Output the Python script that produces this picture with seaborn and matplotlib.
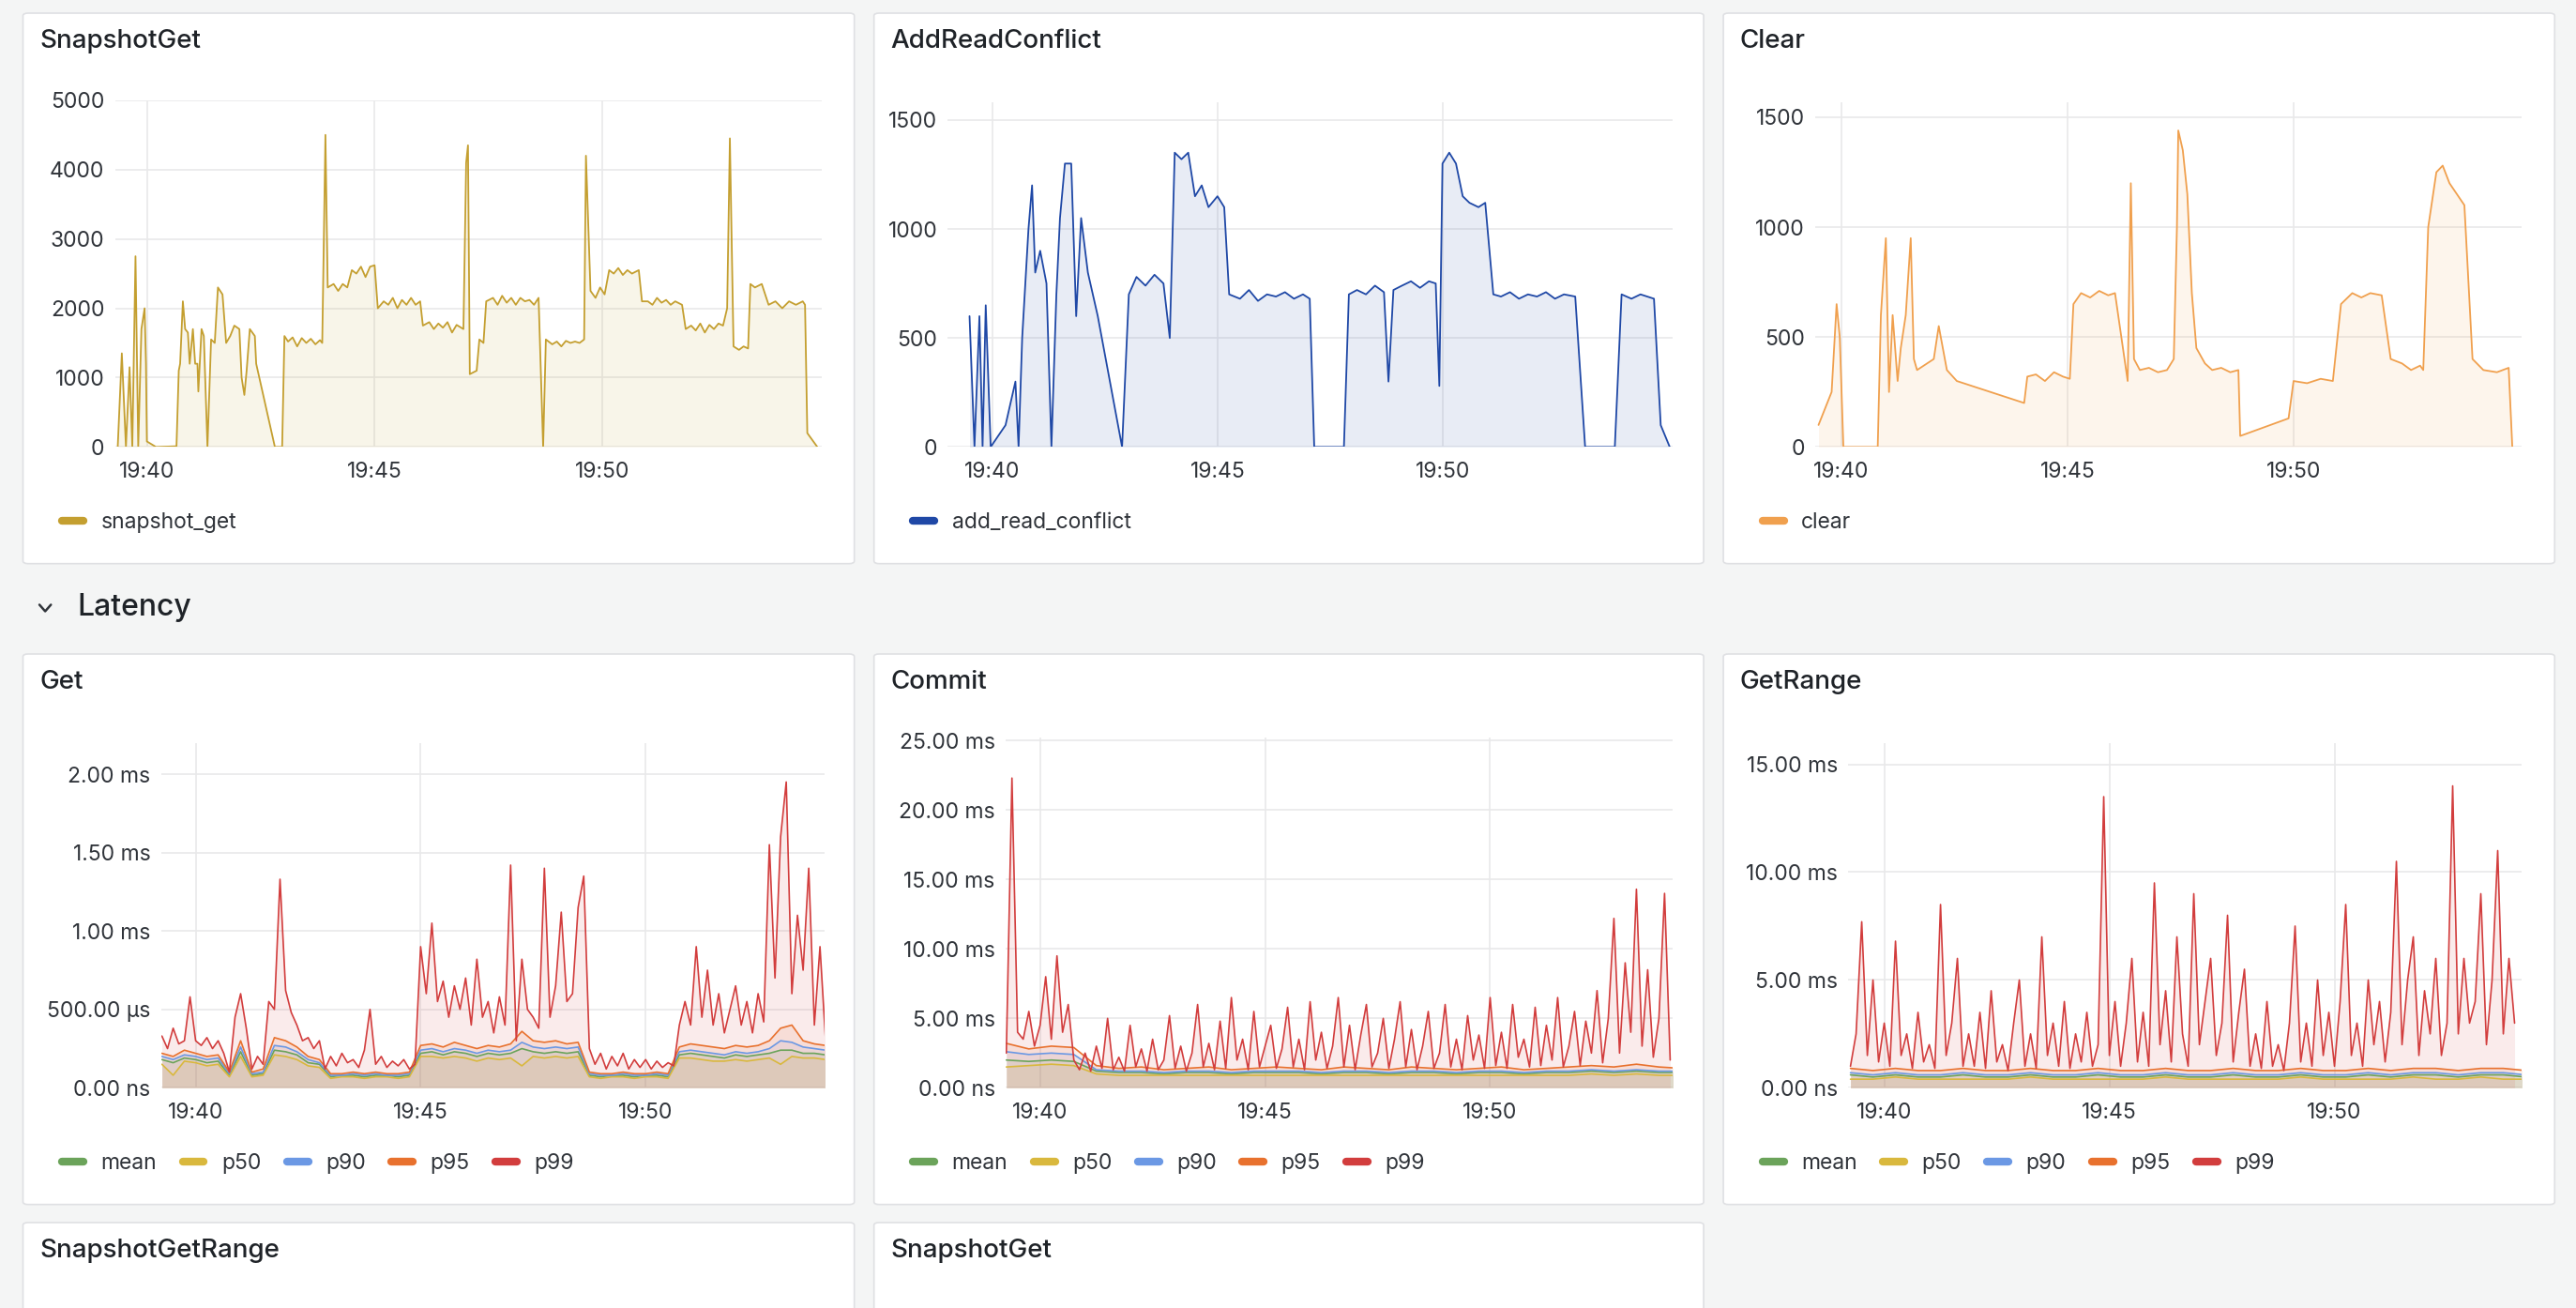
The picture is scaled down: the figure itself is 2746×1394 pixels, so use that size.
import numpy as np
import matplotlib
matplotlib.use('Agg')
import matplotlib.pyplot as plt
import seaborn as sns
from matplotlib.lines import Line2D
from matplotlib.patches import FancyBboxPatch
from matplotlib.ticker import FixedLocator, FuncFormatter

sns.set_theme(style='white')
plt.rcParams['font.family'] = ['Inter', 'DejaVu Sans']

# ---- data: minutes after 19:00 and values ----
snap_t = [39.36, 39.45, 39.54, 39.62, 39.68, 39.75, 39.81, 39.88, 39.95, 39.98, 40.0, 40.2, 40.65, 40.70, 40.73,
          40.79, 40.84, 40.90, 40.94, 41.01, 41.06, 41.11, 41.13, 41.20, 41.25, 41.33, 41.41, 41.49, 41.56, 41.66,
          41.74, 41.83, 41.92, 42.03, 42.08, 42.14, 42.19, 42.26, 42.37, 42.40, 42.81, 42.97, 43.02,
          43.1, 43.2, 43.3, 43.4, 43.5, 43.6, 43.7, 43.8, 43.85, 43.92, 43.97,
          44.1, 44.2, 44.3, 44.4, 44.5, 44.6, 44.7, 44.8, 44.9, 45.0, 45.07,
          45.2, 45.3, 45.4, 45.5, 45.6, 45.7, 45.8, 45.9, 46.0, 46.06,
          46.2, 46.3, 46.4, 46.5, 46.6, 46.7, 46.8, 46.95, 47.01, 47.05, 47.09, 47.24, 47.30, 47.39, 47.45,
          47.6, 47.7, 47.8, 47.9, 48.0, 48.1, 48.2, 48.3, 48.4, 48.5, 48.6, 48.70, 48.76,
          48.9, 49.0, 49.1, 49.2, 49.3, 49.4, 49.5, 49.6, 49.64, 49.74,
          49.85, 49.95, 50.05, 50.15, 50.25, 50.35, 50.45, 50.55, 50.65, 50.8, 50.87,
          51.0, 51.1, 51.2, 51.3, 51.4, 51.5, 51.6, 51.75, 51.83,
          51.95, 52.05, 52.15, 52.25, 52.35, 52.45, 52.55, 52.65, 52.74, 52.80, 52.88,
          53.0, 53.1, 53.2, 53.25, 53.35, 53.5, 53.65, 53.8, 53.95, 54.1, 54.25, 54.4, 54.45, 54.5, 54.72]
snap_v = [0, 1350, 0, 1150, 0, 2750, 0, 1700, 2000, 1200, 80, 0, 10, 1100, 1200,
          2100, 1700, 1650, 1200, 1700, 1200, 1200, 800, 1700, 1600, 0, 1550, 1500, 2300, 2200,
          1500, 1600, 1750, 1700, 1000, 750, 1100, 1700, 1600, 1200, 0, 0, 1600,
          1520, 1580, 1450, 1570, 1500, 1560, 1480, 1540, 1500, 4500, 2300,
          2350, 2250, 2350, 2300, 2550, 2500, 2600, 2450, 2600, 2620, 2000,
          2100, 2050, 2150, 2000, 2120, 2050, 2150, 2050, 2100, 1750,
          1800, 1700, 1780, 1720, 1800, 1650, 1760, 1700, 4100, 4350, 1050, 1100, 1550, 1500, 2100,
          2150, 2050, 2180, 2080, 2150, 2050, 2150, 2100, 2120, 2050, 2150, 0, 1550,
          1480, 1520, 1450, 1530, 1500, 1520, 1500, 1550, 4200, 2250,
          2150, 2300, 2200, 2550, 2500, 2580, 2480, 2550, 2500, 2550, 2100,
          2100, 2050, 2150, 2080, 2120, 2050, 2100, 2050, 1700,
          1750, 1680, 1780, 1650, 1760, 1700, 1780, 1750, 2000, 4450, 1450,
          1400, 1450, 1420, 2350, 2300, 2350, 2050, 2100, 2000, 2100, 2050, 2100, 2050, 200, 0]

arc_t = [39.49, 39.60, 39.71, 39.78, 39.85, 39.96, 40.29, 40.51, 40.58, 40.66, 40.80, 40.88, 40.95, 41.06, 41.20,
         41.31, 41.42, 41.50, 41.61, 41.75, 41.86, 41.97, 42.12, 42.34, 42.88, 43.03, 43.2, 43.4, 43.6, 43.8,
         43.94, 44.05, 44.2, 44.35, 44.5, 44.65, 44.8, 45.0, 45.15, 45.26, 45.5, 45.7, 45.9, 46.1, 46.3, 46.5,
         46.7, 46.9, 47.05, 47.15, 47.81, 47.92, 48.1, 48.3, 48.5, 48.7, 48.80, 48.91, 49.1, 49.3, 49.5, 49.7,
         49.85, 49.93, 50.0, 50.15, 50.3, 50.45, 50.6, 50.8, 50.95, 51.13, 51.3, 51.5, 51.7, 51.9, 52.1, 52.3,
         52.5, 52.7, 52.95, 53.17, 53.83, 53.98, 54.2, 54.4, 54.7, 54.85, 55.05]
arc_v = [600, 0, 600, 0, 650, 0, 100, 300, 0, 500, 1000, 1200, 800, 900, 750,
         0, 700, 1050, 1300, 1300, 600, 1050, 800, 600, 0, 700, 780, 740, 790, 750,
         500, 1350, 1320, 1350, 1150, 1200, 1100, 1150, 1100, 700, 680, 720, 670, 700, 690, 710,
         680, 700, 680, 0, 0, 700, 720, 700, 740, 710, 300, 720, 740, 760, 730, 760,
         750, 280, 1300, 1350, 1300, 1150, 1120, 1100, 1120, 700, 690, 710, 680, 700, 690, 710,
         680, 700, 690, 0, 0, 700, 680, 700, 680, 100, 0]

clear_t = [39.49, 39.78, 39.89, 39.96, 40.04, 40.80, 40.87, 40.98, 41.05, 41.13, 41.24, 41.31, 41.42, 41.53,
           41.60, 41.67, 42.04, 42.15, 42.33, 42.55, 44.04, 44.11, 44.3, 44.5, 44.7, 44.9, 45.05, 45.13,
           45.3, 45.5, 45.7, 45.9, 46.05, 46.33, 46.40, 46.47, 46.6, 46.8, 47.0, 47.2, 47.35, 47.42, 47.45,
           47.55, 47.65, 47.75, 47.85, 48.04, 48.2, 48.4, 48.6, 48.78, 48.82, 49.89, 50.0, 50.3, 50.6, 50.87,
           51.05, 51.3, 51.5, 51.7, 51.95, 52.15, 52.4, 52.6, 52.8, 52.87, 52.98, 53.16, 53.3, 53.45, 53.78,
           53.96, 54.2, 54.5, 54.76, 54.84]
clear_v = [100, 250, 650, 500, 0, 0, 600, 950, 250, 600, 300, 450, 600, 950,
           400, 350, 400, 550, 350, 300, 200, 320, 330, 300, 340, 320, 310, 650,
           700, 680, 710, 690, 700, 300, 1200, 400, 350, 360, 340, 350, 400, 1000, 1440,
           1350, 1150, 700, 450, 380, 350, 360, 340, 350, 50, 130, 300, 290, 310, 300,
           650, 700, 680, 700, 690, 400, 380, 350, 370, 350, 1000, 1250, 1280, 1200, 1100,
           400, 350, 340, 360, 0]

# latency series: p99 sampled every 7.5 s, the rest every 15 s / 30 s from 19:39:15 (ms)
get_p99 = [0.33, 0.25, 0.38, 0.28, 0.30, 0.58, 0.30, 0.27, 0.32, 0.25, 0.30, 0.22, 0.10, 0.45, 0.60, 0.38,
           0.12, 0.20, 0.15, 0.55, 0.50, 1.33, 0.62, 0.48, 0.40, 0.30, 0.32, 0.25, 0.30, 0.12, 0.20, 0.14,
           0.22, 0.16, 0.18, 0.13, 0.24, 0.50, 0.15, 0.20, 0.13, 0.17, 0.14, 0.18, 0.12, 0.15, 0.90, 0.60,
           1.05, 0.55, 0.68, 0.45, 0.65, 0.50, 0.70, 0.40, 0.82, 0.45, 0.55, 0.35, 0.58, 0.40, 1.42, 0.30,
           0.82, 0.50, 0.45, 0.38, 1.40, 0.45, 0.65, 1.12, 0.55, 0.60, 1.15, 1.35, 0.25, 0.15, 0.22, 0.12,
           0.20, 0.14, 0.22, 0.12, 0.18, 0.13, 0.18, 0.12, 0.17, 0.13, 0.16, 0.14, 0.40, 0.55, 0.40, 0.90,
           0.45, 0.75, 0.40, 0.60, 0.35, 0.50, 0.65, 0.40, 0.55, 0.35, 0.60, 0.42, 1.55, 0.70, 1.60, 1.95,
           0.60, 1.10, 0.75, 1.40, 0.40, 0.90, 0.30]
get_p95 = [0.22, 0.20, 0.24, 0.22, 0.20, 0.21, 0.10, 0.30, 0.10, 0.12, 0.32, 0.30, 0.26, 0.20, 0.18,
           0.09, 0.09, 0.10, 0.09, 0.10, 0.09, 0.09, 0.10, 0.27, 0.28, 0.26, 0.29, 0.27, 0.25, 0.27,
           0.26, 0.28, 0.36, 0.30, 0.29, 0.30, 0.28, 0.29, 0.10, 0.09, 0.09, 0.10, 0.09, 0.09, 0.10,
           0.09, 0.26, 0.28, 0.27, 0.26, 0.25, 0.27, 0.26, 0.27, 0.30, 0.38, 0.40, 0.30, 0.28, 0.27]
get_p90 = [0.20, 0.18, 0.21, 0.20, 0.18, 0.19, 0.09, 0.26, 0.09, 0.10, 0.27, 0.26, 0.23, 0.18, 0.16,
           0.08, 0.08, 0.09, 0.08, 0.09, 0.08, 0.08, 0.09, 0.24, 0.25, 0.23, 0.25, 0.24, 0.22, 0.24,
           0.23, 0.24, 0.29, 0.26, 0.25, 0.26, 0.25, 0.26, 0.09, 0.08, 0.08, 0.09, 0.08, 0.08, 0.09,
           0.08, 0.23, 0.24, 0.23, 0.22, 0.21, 0.23, 0.22, 0.23, 0.25, 0.30, 0.29, 0.26, 0.25, 0.24]
get_mean = [0.18, 0.16, 0.19, 0.18, 0.16, 0.17, 0.08, 0.23, 0.08, 0.09, 0.24, 0.23, 0.21, 0.16, 0.15,
            0.07, 0.08, 0.08, 0.07, 0.08, 0.08, 0.07, 0.08, 0.22, 0.23, 0.21, 0.23, 0.22, 0.20, 0.22,
            0.21, 0.22, 0.25, 0.23, 0.22, 0.23, 0.22, 0.23, 0.08, 0.07, 0.08, 0.08, 0.07, 0.08, 0.08,
            0.07, 0.21, 0.22, 0.21, 0.20, 0.19, 0.21, 0.20, 0.21, 0.22, 0.24, 0.24, 0.22, 0.22, 0.21]
get_p50 = [0.15, 0.08, 0.17, 0.16, 0.14, 0.15, 0.07, 0.20, 0.07, 0.08, 0.21, 0.20, 0.18, 0.14, 0.13,
           0.06, 0.07, 0.07, 0.06, 0.07, 0.07, 0.06, 0.07, 0.20, 0.20, 0.19, 0.20, 0.19, 0.17, 0.19,
           0.18, 0.19, 0.14, 0.20, 0.19, 0.20, 0.19, 0.20, 0.07, 0.06, 0.07, 0.07, 0.06, 0.07, 0.07,
           0.06, 0.19, 0.19, 0.18, 0.17, 0.17, 0.18, 0.17, 0.18, 0.19, 0.15, 0.20, 0.19, 0.19, 0.18]

commit_p99 = [2.5, 22.3, 4.0, 3.5, 5.5, 3.0, 4.5, 8.0, 3.5, 9.5, 4.0, 6.0, 2.0, 1.3, 2.5, 1.2, 3.0, 1.4, 5.0,
              1.3, 2.2, 1.2, 4.5, 1.5, 2.8, 1.2, 3.5, 1.3, 2.0, 5.2, 1.4, 3.0, 1.2, 2.5, 6.0, 1.5, 3.2, 1.3,
              4.8, 1.4, 6.5, 2.0, 3.5, 1.3, 5.5, 1.5, 3.0, 4.5, 1.4, 2.8, 5.8, 1.5, 3.5, 1.3, 6.2, 2.0, 4.0,
              1.4, 3.0, 6.5, 1.5, 4.5, 1.3, 3.8, 6.0, 1.5, 2.5, 5.0, 1.4, 3.5, 6.2, 1.5, 4.2, 1.3, 3.0, 5.5,
              1.4, 2.5, 6.0, 1.5, 3.5, 1.3, 5.2, 2.0, 3.8, 1.4, 6.5, 1.6, 4.0, 1.4, 6.0, 2.2, 3.5, 1.5, 5.8,
              1.6, 4.5, 2.0, 6.5, 1.5, 3.0, 5.5, 1.6, 4.8, 2.5, 7.0, 1.8, 5.0, 12.2, 2.5, 9.0, 4.0, 14.3, 3.0,
              8.5, 2.2, 5.0, 14.0, 2.0]
commit_p95 = [3.2, 2.8, 3.0, 2.9, 1.6, 1.4, 1.5, 1.3, 1.4, 1.5, 1.3, 1.4, 1.5, 1.4, 1.3, 1.5, 1.4, 1.3,
              1.5, 1.4, 1.3, 1.4, 1.5, 1.3, 1.4, 1.5, 1.6, 1.5, 1.7, 1.5, 1.4]
commit_p90 = [2.6, 2.4, 2.5, 2.4, 1.3, 1.2, 1.2, 1.1, 1.2, 1.2, 1.1, 1.2, 1.2, 1.2, 1.1, 1.2, 1.2, 1.1,
              1.2, 1.2, 1.1, 1.2, 1.2, 1.1, 1.2, 1.2, 1.3, 1.2, 1.3, 1.2, 1.2]
commit_mean = [2.0, 1.9, 2.0, 1.9, 1.2, 1.1, 1.1, 1.0, 1.1, 1.1, 1.0, 1.1, 1.1, 1.1, 1.0, 1.1, 1.1, 1.0,
               1.1, 1.1, 1.0, 1.1, 1.1, 1.0, 1.1, 1.1, 1.2, 1.1, 1.2, 1.1, 1.1]
commit_p50 = [1.5, 1.6, 1.7, 1.6, 1.0, 0.9, 0.9, 0.9, 0.9, 0.9, 0.9, 0.9, 0.9, 0.9, 0.9, 0.9, 0.9, 0.9,
              0.9, 0.9, 0.9, 0.9, 0.9, 0.9, 0.9, 0.9, 1.0, 0.9, 1.0, 0.9, 0.9]

range_p99 = [1.0, 2.5, 7.7, 1.5, 5.0, 1.2, 3.0, 1.0, 6.8, 1.5, 2.5, 0.9, 3.5, 1.2, 2.0, 0.9, 8.5, 1.5, 3.0,
             6.0, 1.0, 2.5, 1.0, 3.5, 0.9, 4.5, 1.2, 2.0, 0.8, 3.0, 5.0, 1.0, 2.5, 0.9, 7.0, 1.5, 3.0, 1.0,
             4.0, 0.9, 2.5, 1.2, 3.5, 1.0, 2.0, 13.5, 1.5, 4.0, 1.0, 3.0, 6.0, 1.2, 3.5, 1.0, 9.5, 2.0, 4.5,
             1.2, 7.0, 2.5, 1.0, 9.0, 2.0, 4.0, 6.0, 1.5, 3.0, 8.0, 1.2, 3.5, 5.5, 1.0, 2.5, 0.9, 4.0, 1.0,
             2.0, 0.8, 3.0, 7.5, 1.2, 3.0, 1.0, 5.0, 1.5, 3.5, 1.0, 4.0, 8.5, 1.5, 3.0, 1.0, 5.0, 2.0, 4.0,
             1.2, 3.5, 10.5, 2.0, 5.0, 7.0, 1.5, 4.5, 2.5, 6.0, 1.5, 3.0, 14.0, 2.5, 6.0, 3.0, 4.0, 9.0, 2.0,
             5.0, 11.0, 2.5, 6.0, 3.0]
range_p95 = [0.9, 0.8, 0.9, 0.8, 0.8, 0.9, 0.8, 0.8, 0.9, 0.8, 0.8, 0.9, 0.8, 0.8, 0.9, 0.8, 0.8, 0.9,
             0.8, 0.8, 0.9, 0.8, 0.8, 0.9, 0.8, 0.9, 0.9, 0.8, 0.9, 0.9, 0.8]
range_p90 = [0.7, 0.6, 0.7, 0.6, 0.6, 0.7, 0.6, 0.6, 0.7, 0.6, 0.6, 0.7, 0.6, 0.6, 0.7, 0.6, 0.6, 0.7,
             0.6, 0.6, 0.7, 0.6, 0.6, 0.7, 0.6, 0.7, 0.7, 0.6, 0.7, 0.7, 0.6]
range_mean = [0.6, 0.5, 0.6, 0.5, 0.5, 0.6, 0.5, 0.5, 0.6, 0.5, 0.5, 0.6, 0.5, 0.5, 0.6, 0.5, 0.5, 0.6,
              0.5, 0.5, 0.6, 0.5, 0.5, 0.6, 0.5, 0.6, 0.6, 0.5, 0.6, 0.6, 0.5]
range_p50 = [0.4, 0.4, 0.5, 0.4, 0.4, 0.4, 0.4, 0.4, 0.5, 0.4, 0.4, 0.4, 0.4, 0.4, 0.5, 0.4, 0.4, 0.4,
             0.4, 0.4, 0.5, 0.4, 0.4, 0.4, 0.4, 0.5, 0.4, 0.4, 0.5, 0.4, 0.4]

lat_names = ['mean', 'p50', 'p90', 'p95', 'p99']
lat_colors = {'mean': '#6ba35a', 'p50': '#d9b83d', 'p90': '#6b98e4', 'p95': '#e8712e', 'p99': '#d23d3d'}

W, H = 1568, 796
fig = plt.figure(figsize=(27.46, 13.94), dpi=100)
fig.patch.set_facecolor('#f4f5f5')


def rect(x0, y0, x1, y1):
    return [x0 / W, 1 - y1 / H, (x1 - x0) / W, (y1 - y0) / H]


def panel(x0, y0, x1, y1, title):
    r = rect(x0, y0, x1, y1)
    fig.patches.append(FancyBboxPatch((r[0], r[1]), r[2], r[3], boxstyle='round,pad=0,rounding_size=0.002',
                                      transform=fig.transFigure, fc='white', ec='#dfe0e3', lw=1.2, zorder=-5))
    fig.text((x0 + 10) / W, 1 - (y0 + 17) / H, title, fontsize=20, weight='medium', color='#1f2328',
             va='center', ha='left')


def style_ax(ax, xlim, ylim, yticks, ylabels):
    ax.set_zorder(2)
    ax.patch.set_alpha(0)
    for s in ax.spines.values():
        s.set_visible(False)
    ax.set_xlim(*xlim)
    ax.set_ylim(*ylim)
    ax.xaxis.set_major_locator(FixedLocator([40, 45, 50]))
    ax.xaxis.set_major_formatter(FuncFormatter(lambda v, p: '19:%02d' % int(round(v))))
    ax.yaxis.set_major_locator(FixedLocator(yticks))
    ax.set_yticklabels(ylabels)
    ax.grid(True, color='#e9e9ea', lw=1.2)
    ax.set_axisbelow(True)
    ax.tick_params(length=0, labelsize=16.5, colors='#30343a')
    ax.tick_params(axis='x', pad=11)
    ax.tick_params(axis='y', pad=8)
    ax.set_xlabel('')
    ax.set_ylabel('')


def legend(x, y, names, colors):
    hs = [Line2D([], [], color=colors[n], lw=6, solid_capstyle='round') for n in names]
    fig.legend(hs, names, loc='center left', bbox_to_anchor=(x / W, 1 - y / H), frameon=False,
               ncol=len(names), fontsize=16.5, handlelength=1.0, columnspacing=1.2, handletextpad=0.8,
               labelcolor='#30343a')


# ---- top row ----
top = [
    ((14, 8, 520, 343), 'SnapshotGet', (70, 61, 500, 272), snap_t, snap_v, 'snapshot_get', '#c49f30',
     (39.30, 54.81), (0, 5000), [0, 1000, 2000, 3000, 4000, 5000]),
    ((532, 8, 1037, 343), 'AddReadConflict', (577, 62, 1018, 272), arc_t, arc_v, 'add_read_conflict', '#1f48a6',
     (39.01, 55.11), (0, 1583), [0, 500, 1000, 1500]),
    ((1049, 8, 1555, 343), 'Clear', (1105, 62, 1535, 272), clear_t, clear_v, 'clear', '#f0a04e',
     (39.42, 55.05), (0, 1570), [0, 500, 1000, 1500]),
]
for pr, title, ar, t, v, name, col, xl, yl, yt in top:
    panel(*pr, title)
    ax = fig.add_axes(rect(*ar))
    sns.lineplot(x=t, y=v, ax=ax, color=col, lw=1.3)
    ax.fill_between(t, v, color=col, alpha=0.1, lw=0)
    style_ax(ax, xl, yl, yt, [str(x) for x in yt])
    legend(pr[0] + 12, 318, [name], {name: col})

# ---- Latency header ----
fig.add_artist(Line2D([24 / W, 27.5 / W, 31 / W], [1 - 368 / H, 1 - 372 / H, 1 - 368 / H],
                      color='#30343a', lw=1.8))
fig.text(47 / W, 1 - 370 / H, 'Latency', fontsize=23, weight='medium', color='#1f2328', va='center')

# ---- latency row ----
lat = [
    ((14, 398, 520, 733), 'Get', (98, 452, 502, 662),
     {'mean': get_mean, 'p50': get_p50, 'p90': get_p90, 'p95': get_p95, 'p99': get_p99}, 0.25,
     (39.23, 53.98), (0, 2.2), [0, 0.5, 1.0, 1.5, 2.0], ['0.00 ns', '500.00 µs', '1.00 ms', '1.50 ms', '2.00 ms']),
    ((532, 398, 1037, 733), 'Commit', (612, 449, 1018, 662),
     {'mean': commit_mean, 'p50': commit_p50, 'p90': commit_p90, 'p95': commit_p95, 'p99': commit_p99}, 0.5,
     (39.23, 54.05), (0, 25.2), [0, 5, 10, 15, 20, 25],
     ['0.00 ns', '5.00 ms', '10.00 ms', '15.00 ms', '20.00 ms', '25.00 ms']),
    ((1049, 398, 1555, 733), 'GetRange', (1125, 452, 1535, 662),
     {'mean': range_mean, 'p50': range_p50, 'p90': range_p90, 'p95': range_p95, 'p99': range_p99}, 0.5,
     (39.2, 54.16), (0, 16.0), [0, 5, 10, 15], ['0.00 ns', '5.00 ms', '10.00 ms', '15.00 ms']),
]
for pr, title, ar, series, step, xl, yl, yt, ylab in lat:
    panel(*pr, title)
    ax = fig.add_axes(rect(*ar))
    for n in lat_names:
        vals = series[n]
        dt = 0.125 if n == 'p99' else step
        t = 39.25 + dt * np.arange(len(vals))
        ax.fill_between(t, vals, color=lat_colors[n], alpha=0.1, lw=0)
        sns.lineplot(x=t, y=vals, ax=ax, color=lat_colors[n], lw=1.2)
    style_ax(ax, xl, yl, yt, ylab)
    legend(pr[0] + 12, 708, lat_names, lat_colors)

# ---- bottom row (cut off) ----
panel(14, 744, 520, 830, 'SnapshotGetRange')
panel(532, 744, 1037, 830, 'SnapshotGet')

fig.savefig('out.png', dpi=100, facecolor=fig.get_facecolor())
